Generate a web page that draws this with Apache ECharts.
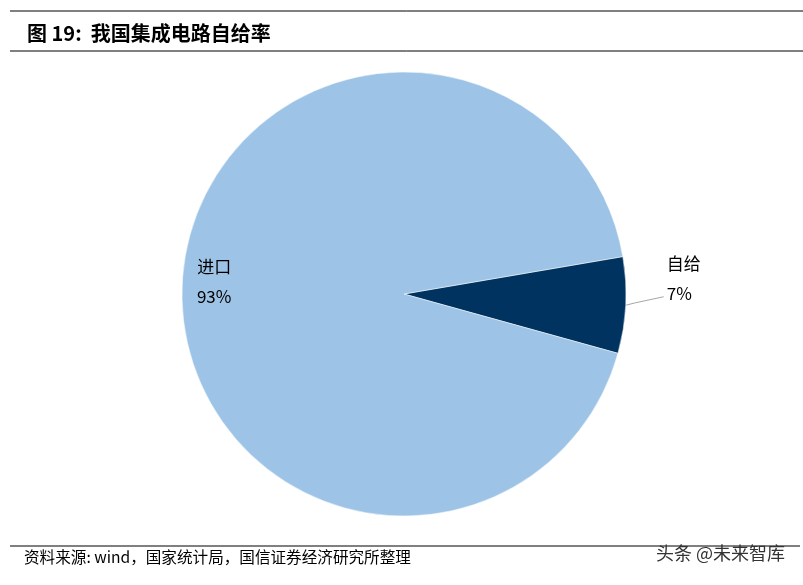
<!DOCTYPE html>
<html><head><meta charset="utf-8">
<script src="https://cdn.jsdelivr.net/npm/echarts@6/dist/echarts.min.js"></script>
<style>html,body{margin:0;padding:0;background:#fff}#c{width:803px;height:585px}</style>
</head><body><div id="c"></div>
<script>
var categories = ['自给', '进口'];
var values = [7, 93];
var colors = ['#00335F', '#9DC3E6'];

var chart = echarts.init(document.getElementById('c'));
var font = '"Noto Sans CJK SC", sans-serif';
chart.setOption({
  animation: false,
  backgroundColor: '#fff',
  title: [{
    text: '图 19:  我国集成电路自给率',
    left: 22, top: 18,
    textStyle: {fontFamily: font, fontSize: 20, fontWeight: 'bold', color: '#000'}
  }],
  graphic: [
    {type: 'line', shape: {x1: 10, y1: 11, x2: 803, y2: 11}, style: {stroke: '#000', lineWidth: 1}},
    {type: 'line', shape: {x1: 10, y1: 51, x2: 803, y2: 51}, style: {stroke: '#000', lineWidth: 1}},
    {type: 'line', shape: {x1: 10, y1: 546, x2: 800, y2: 546}, style: {stroke: '#000', lineWidth: 1}},
    {type: 'text', left: 24, top: 549, style: {text: '资料来源: wind，国家统计局，国信证券经济研究所整理', font: '15.6px ' + font, fill: '#000'}},
    {type: 'text', left: 656, top: 544, style: {text: '头条 @未来智库', font: '18px ' + font, fill: '#333'}}
  ],
  series: [{
    type: 'pie',
    center: [404, 294],
    radius: 222,
    startAngle: 9.7,
    clockwise: true,
    data: categories.map(function (n, i) {
      return {
        name: n, value: values[i],
        itemStyle: {color: colors[i]},
        label: i === 0 ? {position: 'outside'} : {position: 'inside'},
        labelLine: {show: i === 0}
      };
    }),
    itemStyle: {borderColor: '#fff', borderWidth: 0.5},
    label: {
      formatter: function (p) { return p.name + '\n' + p.value + '%\n '; },
      fontFamily: font, fontSize: 17, color: '#000', lineHeight: 30, align: 'center'
    },
    labelLine: {length: 10, length2: 28, lineStyle: {color: '#A6A6A6', width: 1}},
    labelLayout: function (p) {
      if (p.dataIndex === 1) return {dx: -76, dy: 8};
      var pts = p.labelLinePoints;
      if (!pts) return {dy: -12};
      return {
        dx: -2, dy: -12,
        labelLinePoints: [
          pts[0],
          [pts[1][0], pts[1][1] - 3],
          [pts[2][0], pts[2][1] - 9]
        ]
      };
    }
  }]
});
</script></body></html>
